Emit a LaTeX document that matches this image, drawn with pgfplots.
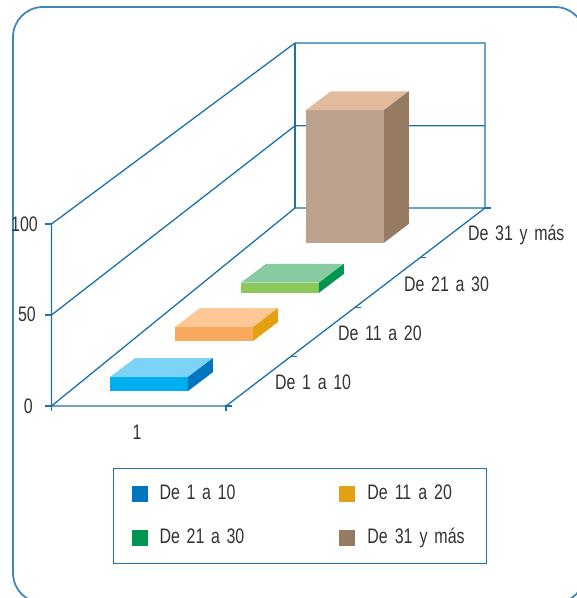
\documentclass[border=0pt]{standalone}
\usepackage{fontspec}
\usepackage{pgfplots}
\pgfplotsset{compat=1.18}
\setmainfont[FakeStretch=0.76,WordSpace=1.5]{Liberation Sans}
\definecolor{wire}{HTML}{1F6FA8}
\definecolor{outer}{HTML}{3F88BC}
\definecolor{ink}{HTML}{333333}
\definecolor{bluefront}{HTML}{00AEEF}
\definecolor{bluetop}{HTML}{7DD3F7}
\definecolor{blueside}{HTML}{0076BE}
\definecolor{orangefront}{HTML}{F8A95E}
\definecolor{orangetop}{HTML}{FDC895}
\definecolor{orangeside}{HTML}{E3A014}
\definecolor{greenfront}{HTML}{8CC75A}
\definecolor{greentop}{HTML}{88CBA0}
\definecolor{greenside}{HTML}{009551}
\definecolor{brownfront}{HTML}{BCA18D}
\definecolor{browntop}{HTML}{E2BB9C}
\definecolor{brownside}{HTML}{967A62}
\tikzset{lab/.style={font=\fontsize{21}{23}\selectfont,text=ink,inner sep=0pt}}
\begin{document}
\begin{tikzpicture}
\path[use as bounding box] (0pt,0pt) rectangle (577pt,-598pt);
\begin{scope}
\clip (0pt,0pt) rectangle (577pt,-598pt);
\draw[outer,line width=1.8pt,rounded corners=30pt] (13pt,-7pt) rectangle (585pt,-603pt);
\end{scope}
\begin{axis}[
  at={(51.5pt,-406pt)},anchor=origin,
  x={(1pt,0pt)},y={(65.3pt,49.4pt)},z={(0pt,1.82pt)},
  xmin=-20,xmax=180,ymin=0,ymax=4.1,zmin=0,zmax=110,
  hide axis,clip=false,no markers,
  legend columns=2,
  legend cell align=left,
  legend image code/.code={\path[#1] (0pt,-8pt) rectangle (16pt,8pt);},
  legend style={at={(axis cs:248.5,0,-60.6)},anchor=center,draw=wire,line width=1.2pt,
    inner xsep=18pt,inner ysep=16pt,
    font=\fontsize{21}{23}\selectfont,text=ink,
    nodes={text height=15pt,text depth=4pt,inner xsep=0pt,inner ysep=0pt},
    /tikz/column 1/.style={column sep=12pt},
    /tikz/column 2/.style={column sep=95pt},
    /tikz/column 3/.style={column sep=12pt},
    /tikz/column 4/.style={nodes={text width=101pt,align=left}},
    /tikz/row sep=25pt},
]
% box of the chart: walls, floor and their ticks
\addplot3[wire,line width=1.3pt,forget plot] coordinates {(0,0,100) (0,0,0) (174.5,0,0) (171.8,4.008,0) (-18.2,4.008,0) (0,0,0)};
\addplot3[wire,line width=1.3pt,forget plot] coordinates {(0,0,100) (-18.2,4.008,90.66) (171.8,4.008,90.66) (171.8,4.008,0)};
\addplot3[wire,line width=1.3pt,forget plot] coordinates {(-18.2,4.008,90.66) (-18.2,4.008,0)};
\addplot3[wire,line width=1.3pt,forget plot] coordinates {(0,0,50) (-18.2,4.008,45.2) (171.8,4.008,45.2)};
\addplot3[wire,line width=1.1pt,forget plot] coordinates {(-6.5,0,100) (0,0,100)};
\addplot3[wire,line width=1.1pt,forget plot] coordinates {(-6.5,0,50) (0,0,50)};
\addplot3[wire,line width=1.1pt,forget plot] coordinates {(-6.5,0,0) (0,0,0) (0,0,-3)};
\addplot3[wire,line width=1.1pt,forget plot] coordinates {(174.5,0,-3) (174.5,0,0) (180.5,0,0)};
\addplot3[wire,line width=1.1pt,forget plot] coordinates {(173.8,1,0) (179.8,1,0)};
\addplot3[wire,line width=1.1pt,forget plot] coordinates {(173.2,2,0) (179.2,2,0)};
\addplot3[wire,line width=1.1pt,forget plot] coordinates {(172.5,3,0) (178.5,3,0)};
\addplot3[wire,line width=1.1pt,forget plot] coordinates {(171.8,4.008,0) (177.8,4.008,0)};
% De 1 a 10
\addplot3[fill=bluefront,draw=none,forget plot] coordinates {(38.67,.3036,0) (116.67,.3036,0) (116.67,.3036,7.7) (38.67,.3036,7.7)};
\addplot3[fill=bluetop,draw=none,forget plot] coordinates {(38.67,.3036,7.7) (116.67,.3036,7.7) (116.67,.6836,7.7) (38.67,.6836,7.7)};
\addplot3[fill=blueside,draw=none] coordinates {(116.67,.3036,0) (116.67,.6836,0) (116.67,.6836,7.7) (116.67,.3036,7.7)};
\addlegendentry{De 1 a 10}
% De 11 a 20
\addplot3[fill=orangefront,draw=none,forget plot] coordinates {(37.58,1.3158,0) (115.58,1.3158,0) (115.58,1.3158,7.7) (37.58,1.3158,7.7)};
\addplot3[fill=orangetop,draw=none,forget plot] coordinates {(37.58,1.3158,7.7) (115.58,1.3158,7.7) (115.58,1.6958,7.7) (37.58,1.6958,7.7)};
\addplot3[fill=orangeside,draw=none] coordinates {(115.58,1.3158,0) (115.58,1.6958,0) (115.58,1.6958,7.7) (115.58,1.3158,7.7)};
\addlegendentry{De 11 a 20}
% De 21 a 30
\addplot3[fill=greenfront,draw=none,forget plot] coordinates {(39.73,2.2935,0) (117.73,2.2935,0) (117.73,2.2935,5.5) (39.73,2.2935,5.5)};
\addplot3[fill=greentop,draw=none,forget plot] coordinates {(39.73,2.2935,5.5) (117.73,2.2935,5.5) (117.73,2.6735,5.5) (39.73,2.6735,5.5)};
\addplot3[fill=greenside,draw=none] coordinates {(117.73,2.2935,0) (117.73,2.6735,0) (117.73,2.6735,5.5) (117.73,2.2935,5.5)};
\addlegendentry{De 21 a 30}
% De 31 y más
\addplot3[fill=brownfront,draw=none,forget plot] coordinates {(38.64,3.3057,0) (116.64,3.3057,0) (116.64,3.3057,72.9) (38.64,3.3057,72.9)};
\addplot3[fill=browntop,draw=none,forget plot] coordinates {(38.64,3.3057,72.9) (116.64,3.3057,72.9) (116.64,3.6857,72.9) (38.64,3.6857,72.9)};
\addplot3[fill=brownside,draw=none] coordinates {(116.64,3.3057,0) (116.64,3.6857,0) (116.64,3.6857,72.9) (116.64,3.3057,72.9)};
\addlegendentry{De 31 y más}
\end{axis}
% scale numbers and category names
\node[lab,anchor=east] at (38pt,-224pt) {100};
\node[lab,anchor=east] at (36pt,-314pt) {50};
\node[lab,anchor=east] at (33pt,-406pt) {0};
\node[lab] at (137pt,-432pt) {1};
\node[lab,anchor=west] at (275pt,-382.5pt) {De 1 a 10};
\node[lab,anchor=west] at (338pt,-333.5pt) {De 11 a 20};
\node[lab,anchor=west] at (404pt,-284.5pt) {De 21 a 30};
\node[lab,anchor=west] at (468pt,-234.5pt) {De 31 y más};
\end{tikzpicture}
\end{document}
